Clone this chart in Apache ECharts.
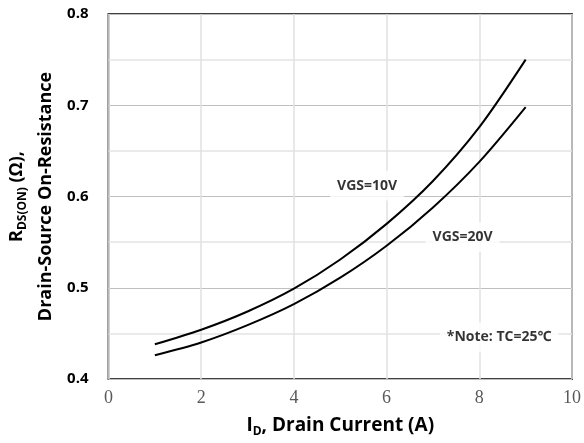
<!DOCTYPE html>
<html>
<head>
<meta charset="utf-8">
<script src="https://cdn.jsdelivr.net/npm/echarts@6/dist/echarts.min.js"></script>
<style>
html,body{margin:0;padding:0;background:#fff;}
#c{width:584px;height:443px;}
</style>
</head>
<body>
<div id="c"></div>
<script>
// Data
var currents = [1, 2, 3, 4, 5, 6, 7, 8, 9];
var rdsVgs10 = [0.438, 0.454, 0.474, 0.499, 0.531, 0.570, 0.617, 0.676, 0.750];
var rdsVgs20 = [0.426, 0.440, 0.459, 0.482, 0.511, 0.546, 0.588, 0.638, 0.698];
var labelNames = ['VGS=10V', 'VGS=20V', '*Note: TC=25\u2103'];
var labelX = [5.58, 7.64, 8.43];
var labelY = [0.612, 0.5556, 0.4457];

var FONT = '"Open Sans", "Noto Sans", sans-serif';

function pairs(xs, ys) { return xs.map(function (x, i) { return [x, ys[i]]; }); }

var chart = echarts.init(document.getElementById('c'), null, {renderer: 'canvas'});
chart.setOption({
  animation: false,
  backgroundColor: '#fff',
  grid: {left: 107, right: 11, top: 14, bottom: 61, show: true, borderColor: '#404040', borderWidth: 2, backgroundColor: 'transparent'},
  xAxis: {
    type: 'value', min: 0, max: 10, interval: 2,
    axisLine: {show: false}, axisTick: {show: false},
    splitLine: {show: true, lineStyle: {color: '#e0e0e0', width: 1.5}},
    axisLabel: {fontFamily: '"Liberation Serif", serif', fontSize: 18, color: '#595959', margin: 10},
    name: '{a|I}{s|D}{a|, Drain Current (A)}',
    nameLocation: 'middle', nameGap: 35,
    nameTextStyle: {
      rich: {
        a: {fontFamily: FONT, fontSize: 19, fontWeight: 'bold', color: '#000', lineHeight: 24},
        s: {fontFamily: FONT, fontSize: 12, fontWeight: 'bold', color: '#000', verticalAlign: 'bottom', padding: [0, 0, 0, 0]}
      }
    }
  },
  yAxis: {
    type: 'value', min: 0.4, max: 0.8, interval: 0.1,
    axisLine: {show: false}, axisTick: {show: false},
    splitLine: {show: true, lineStyle: {color: '#bfbfbf', width: 1}},
    minorTick: {show: false, splitNumber: 2},
    minorSplitLine: {show: true, lineStyle: {color: '#e3e3e3', width: 1.5}},
    axisLabel: {fontFamily: FONT, fontSize: 15, fontWeight: 'bold', color: '#000', margin: 20,
      formatter: function (v) { return v.toFixed(1); }},
    name: '{a|R}{s|DS(ON)}{a| (\u03A9),}\n{a|Drain-Source On-Resistance}',
    nameLocation: 'middle', nameRotate: 90, nameGap: 48,
    nameTextStyle: {
      rich: {
        a: {fontFamily: FONT, fontSize: 18, fontWeight: 'bold', color: '#000', lineHeight: 29},
        s: {fontFamily: FONT, fontSize: 12, fontWeight: 'bold', color: '#000', verticalAlign: 'bottom', padding: [0, 0, 3, 0]}
      }
    }
  },
  series: [
    {type: 'line', name: 'VGS=10V', data: pairs(currents, rdsVgs10), smooth: 0.3, showSymbol: false,
      lineStyle: {color: '#000', width: 2}, z: 3},
    {type: 'line', name: 'VGS=20V', data: pairs(currents, rdsVgs20), smooth: 0.3, showSymbol: false,
      lineStyle: {color: '#000', width: 2}, z: 3},
    {type: 'scatter', symbolSize: 0, z: 4,
      data: labelNames.map(function (n, i) { return {name: n, value: [labelX[i], labelY[i]]}; }),
      label: {show: true, position: 'inside', formatter: '{b}', fontFamily: FONT, fontSize: 14, fontWeight: 'bold',
        color: '#000', backgroundColor: '#fff', padding: [8, 7]}}
  ]
});
</script>
</body>
</html>
